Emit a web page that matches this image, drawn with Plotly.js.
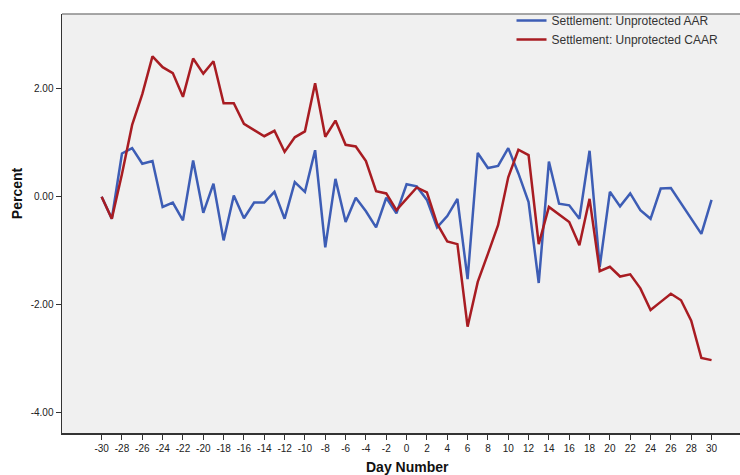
<!DOCTYPE html>
<html>
<head>
<meta charset="utf-8">
<script src="https://cdn.plot.ly/plotly-3.0.1.min.js"></script>
<style>
  html, body { margin: 0; padding: 0; background: #ffffff; }
  #chart { width: 740px; height: 475px; }
</style>
</head>
<body>
<div id="chart"></div>
<script>
// Event window, days relative to the settlement announcement
const dayNumbers = [
  -30, -29, -28, -27, -26, -25, -24, -23, -22, -21,
  -20, -19, -18, -17, -16, -15, -14, -13, -12, -11,
  -10, -9, -8, -7, -6, -5, -4, -3, -2, -1,
  0, 1, 2, 3, 4, 5, 6, 7, 8, 9,
  10, 11, 12, 13, 14, 15, 16, 17, 18, 19,
  20, 21, 22, 23, 24, 25, 26, 27, 28, 29, 30
];

// Average abnormal return (%)
const aarValues = [
  0.00, -0.41, 0.80, 0.90, 0.61, 0.66, -0.19, -0.11, -0.44, 0.67,
  -0.30, 0.24, -0.81, 0.02, -0.40, -0.11, -0.11, 0.09, -0.41, 0.27,
  0.09, 0.86, -0.94, 0.33, -0.47, -0.02, -0.27, -0.57, -0.02, -0.31,
  0.23, 0.19, -0.06, -0.57, -0.36, -0.04, -1.53, 0.81, 0.53, 0.57,
  0.90, 0.43, -0.10, -1.60, 0.65, -0.13, -0.16, -0.41, 0.85, -1.30,
  0.09, -0.18, 0.06, -0.25, -0.41, 0.15, 0.16, -0.12, -0.40, -0.69, -0.06
];

// Cumulative average abnormal return (%)
const caarValues = [
  0.00, -0.41, 0.42, 1.33, 1.90, 2.60, 2.40, 2.29, 1.85, 2.56,
  2.28, 2.51, 1.73, 1.73, 1.35, 1.24, 1.12, 1.22, 0.83, 1.10,
  1.21, 2.10, 1.11, 1.41, 0.96, 0.93, 0.66, 0.10, 0.06, -0.25,
  -0.04, 0.17, 0.08, -0.50, -0.83, -0.88, -2.41, -1.58, -1.06, -0.53,
  0.36, 0.87, 0.77, -0.88, -0.19, -0.33, -0.47, -0.90, -0.04, -1.38,
  -1.30, -1.48, -1.44, -1.70, -2.10, -1.95, -1.80, -1.92, -2.30, -2.99, -3.03
];

const seriesNames = ['Settlement: Unprotected AAR', 'Settlement: Unprotected CAAR'];
const seriesColors = ['#3d5db5', '#a81c22'];

const xTickValues = [];
for (let d = -30; d <= 30; d += 2) xTickValues.push(d);
const xTickLabels = xTickValues.map(String);

const yTickValues = [-4, -2, 0, 2];
const yTickLabels = ['-4.00', '-2.00', '0.00', '2.00'];

const baseFont = 'Liberation Sans, Arial, Helvetica, sans-serif';

const traces = [
  {
    x: dayNumbers, y: aarValues, name: seriesNames[0],
    type: 'scatter', mode: 'lines',
    line: { color: seriesColors[0], width: 2.5 }
  },
  {
    x: dayNumbers, y: caarValues, name: seriesNames[1],
    type: 'scatter', mode: 'lines',
    line: { color: seriesColors[1], width: 2.5 }
  }
];

const layout = {
  width: 740,
  height: 475,
  margin: { l: 62, r: 0, t: 14, b: 42 },
  paper_bgcolor: '#ffffff',
  plot_bgcolor: '#f0f0f0',
  font: { family: baseFont, size: 10, color: '#222222' },
  showlegend: true,
  legend: {
    x: 0.663, xanchor: 'left',
    y: 1.019, yanchor: 'top',
    bgcolor: 'rgba(0,0,0,0)',
    font: { family: baseFont, size: 12, color: '#333333' },
    itemwidth: 30,
    tracegroupgap: 0
  },
  xaxis: {
    range: [-33.9, 32.8],
    tickmode: 'array',
    tickvals: xTickValues,
    ticktext: xTickLabels,
    ticks: 'outside', ticklen: 5, tickwidth: 1, tickcolor: '#333333',
    tickfont: { family: baseFont, size: 10, color: '#222222' },
    showgrid: false, zeroline: false,
    showline: true, linecolor: '#333333', linewidth: 1.5,
    fixedrange: true
  },
  yaxis: {
    range: [-4.38, 3.385],
    tickmode: 'array',
    tickvals: yTickValues,
    ticktext: yTickLabels,
    ticks: 'outside', ticklen: 5, tickwidth: 1, tickcolor: '#333333',
    tickfont: { family: baseFont, size: 10, color: '#222222' },
    showgrid: false, zeroline: false,
    showline: true, linecolor: '#333333', linewidth: 1.5,
    fixedrange: true
  },
  shapes: [
    // thin grey frame line along the top of the plot area
    { type: 'line', xref: 'paper', yref: 'paper', x0: 0, x1: 1, y0: 1, y1: 1,
      line: { color: '#8a8a8a', width: 1.5 } }
  ],
  annotations: [
    { text: 'Day Number', xref: 'paper', yref: 'paper', x: 0.509, y: -0.081,
      xanchor: 'center', yanchor: 'middle', showarrow: false,
      font: { family: baseFont, size: 14, color: '#111111', weight: 'bold' } },
    { text: 'Percent', xref: 'paper', yref: 'paper', x: -0.066, y: 0.573,
      xanchor: 'center', yanchor: 'middle', showarrow: false, textangle: -90,
      font: { family: baseFont, size: 14, color: '#111111', weight: 'bold' } }
  ]
};

Plotly.newPlot('chart', traces, layout, { displayModeBar: false, staticPlot: true });
</script>
</body>
</html>
